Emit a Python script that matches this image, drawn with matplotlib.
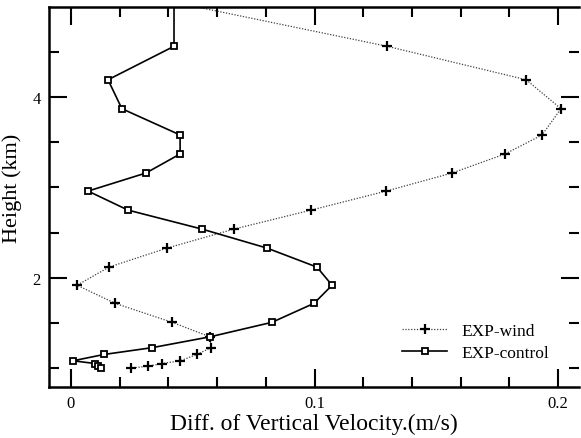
import matplotlib
matplotlib.use("Agg")
import matplotlib.pyplot as plt
from matplotlib.ticker import MultipleLocator

plt.rcParams['font.family'] = ['Liberation Serif', 'DejaVu Serif']

# model levels (km), top one lies above the plotted range
height = [5.2, 4.56, 4.19, 3.87, 3.58, 3.37, 3.16, 2.96, 2.75, 2.54, 2.33,
          2.12, 1.92, 1.72, 1.51, 1.35, 1.23, 1.155, 1.085, 1.055, 1.025, 1.005]

exp_wind = [0.0147, 0.1298, 0.1869, 0.2012, 0.1934, 0.1782, 0.1565, 0.1294,
            0.0986, 0.0669, 0.0394, 0.0156, 0.0025, 0.0181, 0.0415, 0.0571,
            0.0575, 0.0517, 0.0448, 0.0374, 0.0316, 0.0246]

exp_control = [0.0423, 0.0423, 0.0152, 0.0209, 0.0448, 0.0448, 0.0308, 0.0070,
               0.0234, 0.0538, 0.0805, 0.1010, 0.1072, 0.0998, 0.0825, 0.0571,
               0.0333, 0.0136, 0.0008, 0.0099, 0.0111, 0.0123]

fig = plt.figure(figsize=(5.81, 4.39), dpi=100)
ax = fig.add_axes([0.0843, 0.1162, 0.9123, 0.8656])

ax.plot(exp_wind, height, linestyle=(0, (1, 1.3)), color='0.25', lw=0.9,
        marker='+', ms=7, mew=1.6, mec='black', label='EXP-wind')
ax.plot(exp_control, height, linestyle='-', color='black', lw=1.2,
        marker='s', ms=4.5, mew=1.3, mfc='white', mec='black', label='EXP-control')

ax.set_xlim(-0.00904, 0.2086)
ax.set_ylim(0.7956, 4.994)

ax.xaxis.set_major_locator(MultipleLocator(0.1))
ax.xaxis.set_minor_locator(MultipleLocator(0.02))
ax.yaxis.set_major_locator(MultipleLocator(2))
ax.yaxis.set_minor_locator(MultipleLocator(0.5))
ax.xaxis.set_major_formatter(plt.FuncFormatter(lambda v, p: '0' if abs(v) < 1e-9 else f'{v:.1f}'))
ax.yaxis.set_major_formatter(plt.FuncFormatter(lambda v, p: f'{v:.0f}'))

ax.tick_params(which='both', direction='in', top=True, right=True, width=1.5,
               labelsize=12, pad=6)
ax.tick_params(which='major', length=13)
ax.tick_params(which='minor', length=7)

for s in ['left', 'bottom', 'top']:
    ax.spines[s].set_linewidth(1.8)
ax.spines['right'].set_visible(False)

ax.set_xlabel('Diff. of Vertical Velocity.(m/s)', fontsize=17, labelpad=1)
ax.set_ylabel('Height (km)', fontsize=16)
ax.yaxis.set_label_coords(-0.05, 0.526)

ax.legend(loc='upper left', bbox_to_anchor=(0.666, 0.168), frameon=False,
          fontsize=12.5, handlelength=2.6, handletextpad=0.8, borderpad=0,
          borderaxespad=0, labelspacing=0.3)

fig.savefig('out.png', dpi=100)
